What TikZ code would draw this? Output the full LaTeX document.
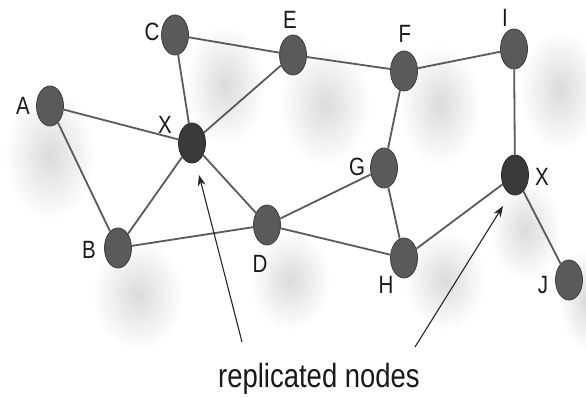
\documentclass[tikz,border=0pt]{standalone}
\usepackage{fontspec}
\setmainfont{Liberation Sans}[FakeStretch=0.82]
\usetikzlibrary{shapes.geometric,arrows.meta,fadings}

\definecolor{nodefill}{HTML}{5A5A5A}
\definecolor{nodeline}{HTML}{3E3E3E}
\definecolor{xfill}{HTML}{3A3A3A}
\definecolor{edgecol}{HTML}{5A5A5A}
\definecolor{labelcol}{HTML}{1A1A1A}

\tikzfading[name=softblob, inner color=transparent!72, outer color=transparent!100]

\tikzset{
  vertex/.style={ellipse, minimum width=27pt, minimum height=40pt, inner sep=0pt,
                 fill=nodefill, draw=nodeline, line width=0.8pt},
  repl/.style={vertex, fill=xfill, draw=black!85},
  lbl/.style={text=labelcol, font=\fontsize{25}{28}\selectfont, inner sep=0pt},
  link/.style={draw=edgecol, line width=1.8pt},
  pointer/.style={draw=black!85, line width=1.1pt,
                  -{Stealth[length=11pt, width=8pt]}},
  blob/.style={fill=black!50, path fading=softblob}
}

\begin{document}
\begin{tikzpicture}[x=1pt, y=-1pt]
  \useasboundingbox (0,0) rectangle (586,398);
  \fill[white] (0,0) rectangle (586,398);

  % soft shadows under the network
  \fill[blob] (50,155) ellipse (45 and 65);
  \fill[blob] (138,295) ellipse (45 and 55);
  \fill[blob] (225,85) ellipse (40 and 60);
  \fill[blob] (325,105) ellipse (45 and 60);
  \fill[blob] (440,105) ellipse (40 and 60);
  \fill[blob] (560,90) ellipse (40 and 60);
  \fill[blob] (290,280) ellipse (40 and 50);
  \fill[blob] (445,280) ellipse (40 and 50);
  \fill[blob] (525,230) ellipse (35 and 50);
  \fill[blob] (585,300) ellipse (25 and 50);

  % vertices
  \node[vertex] (A) at (50,106) {};
  \node[vertex] (C) at (175,35) {};
  \node[vertex] (E) at (293,55) {};
  \node[repl]   (X1) at (192,143) {};
  \node[vertex] (F) at (404,71) {};
  \node[vertex] (I) at (514,49) {};
  \node[vertex] (G) at (384,168) {};
  \node[repl]   (X2) at (515,175) {};
  \node[vertex] (B) at (118,248) {};
  \node[vertex] (D) at (267,225) {};
  \node[vertex] (H) at (404,258) {};
  \node[vertex] (J) at (569,280) {};

  % links between vertices
  \draw[link] (A) -- (X1);
  \draw[link] (A) -- (B);
  \draw[link] (C) -- (X1);
  \draw[link] (C) -- (E);
  \draw[link] (E) -- (X1);
  \draw[link] (X1) -- (B);
  \draw[link] (X1) -- (D);
  \draw[link] (B) -- (D);
  \draw[link] (E) -- (F);
  \draw[link] (F) -- (I);
  \draw[link] (F) -- (G);
  \draw[link] (G) -- (D);
  \draw[link] (D) -- (H);
  \draw[link] (G) -- (H);
  \draw[link] (H) -- (X2);
  \draw[link] (I) -- (X2);
  \draw[link] (X2) -- (J);

  % vertex labels
  \node[lbl] (lA) at (23,106) {A};
  \node[lbl] (lC) at (152,32) {C};
  \node[lbl] (lE) at (290,20) {E};
  \node[lbl] (lX1) at (165,125) {X};
  \node[lbl] (lF) at (405,34) {F};
  \node[lbl] (lI) at (505,18) {I};
  \node[lbl] (lG) at (357,167) {G};
  \node[lbl] (lX2) at (542,177) {X};
  \node[lbl] (lB) at (89,250) {B};
  \node[lbl] (lD) at (260,264) {D};
  \node[lbl] (lH) at (386,285) {H};
  \node[lbl] (lJ) at (543,285) {J};

  % caption and pointers to the replicated vertices
  \node[anchor=base west, inner sep=0pt, text=labelcol,
        font=\fontsize{33.5}{36}\selectfont] (cap) at (218,387) {replicated nodes};
  \coordinate (t1) at (242,342);
  \coordinate (h1) at (199,175);
  \coordinate (t2) at (415,347);
  \coordinate (h2) at (503,206);
  \draw[pointer] (t1) -- (h1);
  \draw[pointer] (t2) -- (h2);
\end{tikzpicture}
\end{document}
